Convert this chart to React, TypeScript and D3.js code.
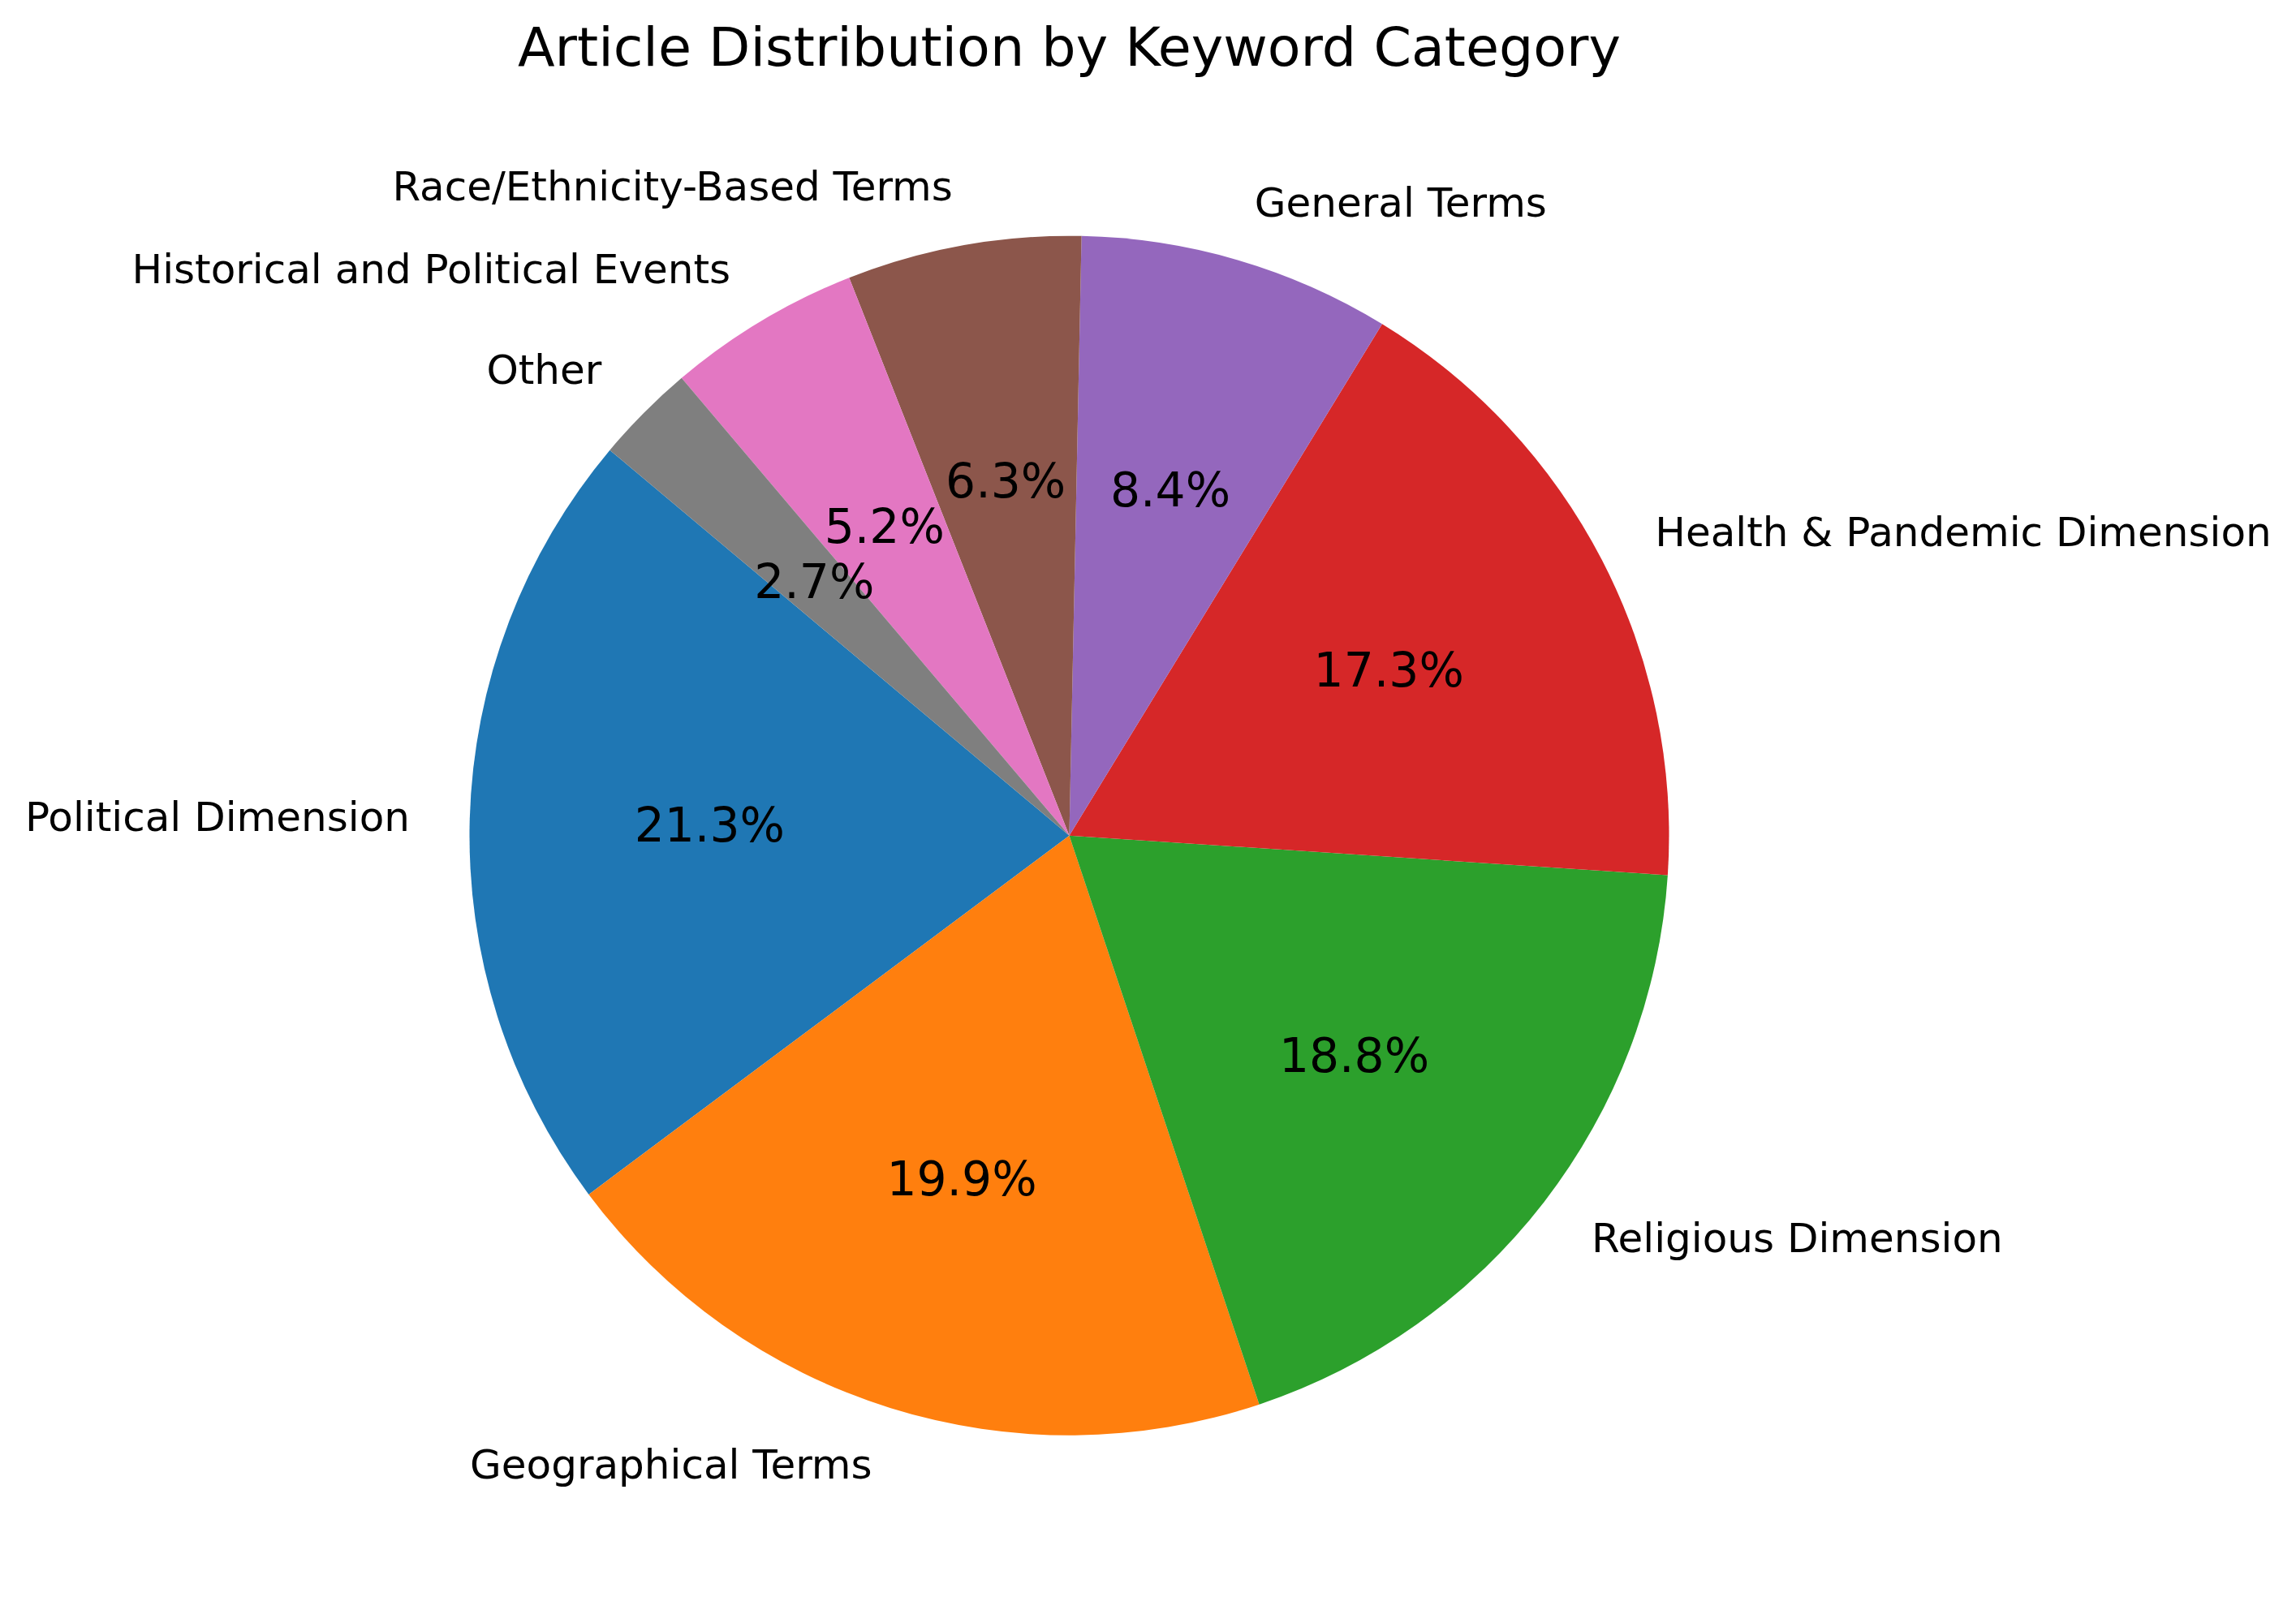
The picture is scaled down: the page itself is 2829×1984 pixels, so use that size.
import { pie, arc, format } from "d3";

// Keyword categories and their share of articles (%)
const categories = [
  "Political Dimension",
  "Geographical Terms",
  "Religious Dimension",
  "Health & Pandemic Dimension",
  "General Terms",
  "Race/Ethnicity-Based Terms",
  "Historical and Political Events",
  "Other",
];
const shares = [21.3, 19.9, 18.8, 17.3, 8.4, 6.3, 5.2, 2.7];
const colors = ["#1f77b4", "#ff7f0e", "#2ca02c", "#d62728", "#9467bd", "#8c564b", "#e377c2", "#7f7f7f"];

const width = 2829;
const height = 1984;
const cx = 1317.5;
const cy = 1029.7;
const radius = 739;

const FONT = "'DejaVu Sans', sans-serif";

const App = () => {
  const total = shares.reduce((a, b) => a + b, 0);
  const pct = format(".1f");

  // matplotlib startangle=140 counterclockwise -> d3 angles (clockwise from 12 o'clock)
  const start = ((90 - 140) * Math.PI) / 180;
  const pieGen = pie<number>()
    .sort(null)
    .value((d) => d)
    .startAngle(start)
    .endAngle(start - 2 * Math.PI);
  const slices = pieGen(shares);
  const arcGen = arc<any>().innerRadius(0).outerRadius(radius);

  return (
    <svg
      width={width}
      height={height}
      style={{ position: "absolute", left: 0, top: 0, background: "#fff" }}
    >
      <text
        x={cx}
        y={81}
        textAnchor="middle"
        fontFamily={FONT}
        fontSize={66.7}
        fill="#000"
      >
        Article Distribution by Keyword Category
      </text>
      <g transform={`translate(${cx},${cy})`}>
        {slices.map((s, i) => (
          <path key={categories[i]} d={arcGen(s) as string} fill={colors[i]} />
        ))}
        {slices.map((s, i) => {
          const mid = (s.startAngle + s.endAngle) / 2;
          const lx = 1.1 * radius * Math.sin(mid);
          const ly = -1.1 * radius * Math.cos(mid);
          const px = 0.6 * radius * Math.sin(mid);
          const py = -0.6 * radius * Math.cos(mid);
          return (
            <g key={"t" + i}>
              <text
                x={lx}
                y={ly}
                textAnchor={lx > 0 ? "start" : "end"}
                dominantBaseline="central"
                fontFamily={FONT}
                fontSize={50}
                fill="#000"
              >
                {categories[i]}
              </text>
              <text
                x={px}
                y={py}
                textAnchor="middle"
                dominantBaseline="central"
                fontFamily={FONT}
                fontSize={58.3}
                fill="#000"
              >
                {pct((shares[i] / total) * 100)}%
              </text>
            </g>
          );
        })}
      </g>
    </svg>
  );
};

export default App;
